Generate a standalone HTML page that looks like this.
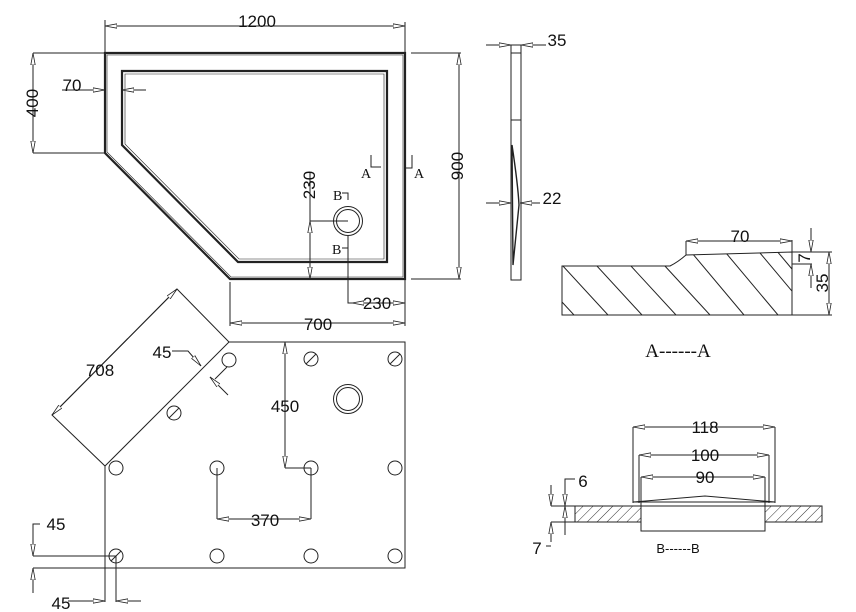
<!DOCTYPE html>
<html><head><meta charset="utf-8"><style>
html,body{margin:0;padding:0;background:#fff;}
svg{display:block}
text{font-family:"Liberation Sans",sans-serif;fill:#111;}
.s{font-family:"Liberation Serif",serif;}
</style></head><body>
<svg width="856" height="612" viewBox="0 0 856 612" xmlns="http://www.w3.org/2000/svg">
<defs>
<marker id="a" viewBox="0 0 12 6" refX="12" refY="3" markerWidth="12" markerHeight="6" orient="auto-start-reverse" markerUnits="userSpaceOnUse">
<path d="M0,0.8 L12,3 L0,5.2 Z" fill="#fff" stroke="#222" stroke-width="0.8"/>
</marker>
<clipPath id="cA"><path d="M562,266 L670,266 Q678,262 686,255 L792,252 L792,315 L562,315 Z"/></clipPath>
<pattern id="h" width="7" height="7" patternUnits="userSpaceOnUse" patternTransform="rotate(45)"><line x1="0" y1="0" x2="0" y2="7" stroke="#333" stroke-width="1"/></pattern>
</defs>
<g fill="none" stroke="#222" stroke-width="1">
<!-- top view -->
<path d="M105,53 L405,53 L405,279 L230,279 L105,153 Z" stroke-width="2.2"/>
<path d="M107,55 L403,55 L403,277 L231,277 L107,152 Z" stroke-width="0.6"/>
<path d="M122,71 L387,71 L387,262 L238,262 L122,145 Z" stroke-width="2.2"/>
<path d="M125,74 L384,74 L384,259 L239,259 L125,144 Z" stroke-width="0.6"/>
<line x1="105" y1="20" x2="105" y2="53"/><line x1="405" y1="22" x2="405" y2="53"/>
<line x1="105" y1="26" x2="405" y2="26" marker-start="url(#a)" marker-end="url(#a)"/>
<line x1="33" y1="53" x2="105" y2="53"/><line x1="33" y1="153" x2="105" y2="153"/>
<line x1="33" y1="53" x2="33" y2="153" marker-start="url(#a)" marker-end="url(#a)"/>
<line x1="411" y1="53" x2="461" y2="53"/><line x1="411" y1="279" x2="461" y2="279"/>
<line x1="459" y1="53" x2="459" y2="279" marker-start="url(#a)" marker-end="url(#a)"/>
<line x1="62" y1="90" x2="105" y2="90" marker-end="url(#a)"/>
<line x1="146" y1="90" x2="122" y2="90" marker-end="url(#a)"/>
<polyline points="371,155 371,167 381,167"/>
<polyline points="412,155 412,168 406,168"/>
<circle cx="348" cy="221" r="14.5"/><circle cx="348" cy="221" r="11.5"/>
<line x1="310" y1="221" x2="348" y2="221"/>
<line x1="310" y1="172" x2="310" y2="221"/>
<line x1="310" y1="221" x2="310" y2="279" marker-start="url(#a)" marker-end="url(#a)"/>
<polyline points="342,193 348,193 348,200"/>
<line x1="342" y1="248" x2="348" y2="248"/>
<polyline points="348,236 348,303 352,303"/>
<line x1="352" y1="303" x2="405" y2="303" marker-start="url(#a)" marker-end="url(#a)"/>
<line x1="230" y1="282" x2="230" y2="326"/><line x1="405" y1="279" x2="405" y2="326"/>
<line x1="230" y1="323" x2="405" y2="323" marker-start="url(#a)" marker-end="url(#a)"/>

<!-- side view -->
<rect x="511" y="45" width="10" height="235"/>
<line x1="511" y1="53" x2="521" y2="53"/><line x1="511" y1="120" x2="521" y2="120"/>
<path d="M512,145 Q518,185 519,205 L513,265 Z" stroke-width="1.4"/>
<line x1="486" y1="45" x2="511" y2="45" marker-end="url(#a)"/>
<line x1="546" y1="45" x2="521" y2="45" marker-end="url(#a)"/>
<line x1="486" y1="203" x2="511" y2="203" marker-end="url(#a)"/>
<line x1="540" y1="203" x2="520" y2="203" marker-end="url(#a)"/>

<!-- section A-A -->
<g clip-path="url(#cA)">
<line x1="528" y1="265" x2="574" y2="315"/>
<line x1="562" y1="265" x2="608" y2="315"/>
<line x1="596" y1="265" x2="642" y2="315"/>
<line x1="630" y1="265" x2="676" y2="315"/>
<line x1="664" y1="265" x2="710" y2="315"/>
<line x1="692" y1="253" x2="744" y2="315"/>
<line x1="726" y1="253" x2="778" y2="315"/>
<line x1="760" y1="253" x2="812" y2="315"/>
<line x1="776" y1="250" x2="828" y2="312"/>
</g>
<path d="M562,266 L670,266 Q678,262 686,255 L792,252 L792,315 L562,315 Z"/>
<line x1="792" y1="252" x2="832" y2="252"/><line x1="792" y1="315" x2="832" y2="315"/>
<line x1="792" y1="264" x2="812" y2="264"/>
<line x1="829" y1="252" x2="829" y2="315" marker-start="url(#a)" marker-end="url(#a)"/>
<line x1="811" y1="228" x2="811" y2="252" marker-end="url(#a)"/>
<line x1="811" y1="288" x2="811" y2="264" marker-end="url(#a)"/>
<line x1="686" y1="241" x2="686" y2="255"/><line x1="792" y1="240" x2="792" y2="252"/>
<line x1="686" y1="241" x2="792" y2="241" marker-start="url(#a)" marker-end="url(#a)"/>

<!-- section B-B -->
<rect x="575" y="506" width="66" height="16" fill="url(#h)"/>
<rect x="765" y="506" width="57" height="16" fill="url(#h)"/>
<rect x="641" y="506" width="124" height="25"/>
<path d="M633,502 L705,496 L775,502 Z"/>
<line x1="633" y1="427" x2="633" y2="503"/><line x1="775" y1="427" x2="775" y2="503"/>
<line x1="639" y1="455" x2="639" y2="503"/><line x1="769" y1="455" x2="769" y2="503"/>
<line x1="641" y1="477" x2="641" y2="506"/><line x1="765" y1="477" x2="765" y2="506"/>
<line x1="633" y1="427" x2="775" y2="427" marker-start="url(#a)" marker-end="url(#a)"/>
<line x1="639" y1="455" x2="769" y2="455" marker-start="url(#a)" marker-end="url(#a)"/>
<line x1="641" y1="477" x2="765" y2="477" marker-start="url(#a)" marker-end="url(#a)"/>
<line x1="551" y1="485" x2="551" y2="506" marker-end="url(#a)"/>
<line x1="551" y1="542" x2="551" y2="522" marker-end="url(#a)"/>
<polyline points="575,479 565,479 565,506" marker-end="url(#a)"/>
<line x1="565" y1="522" x2="565" y2="506" marker-end="url(#a)"/>
<line x1="551" y1="506" x2="575" y2="506"/><line x1="551" y1="522" x2="575" y2="522"/>
<line x1="546" y1="546" x2="551" y2="546"/>
<line x1="565" y1="522" x2="565" y2="535"/>

<!-- bottom view -->
<polyline points="229,342 405,342 405,568 105,568"/>
<line x1="105" y1="466" x2="105" y2="602"/>
<polygon points="177,289 229,342 105,466 52,415"/>
<line x1="177" y1="289" x2="52" y2="415" marker-start="url(#a)" marker-end="url(#a)"/>
<g stroke-width="1">
<circle cx="229" cy="360" r="7"/><circle cx="311" cy="359" r="7"/><circle cx="395" cy="359" r="7"/>
<circle cx="174" cy="413" r="7"/>
<circle cx="116" cy="468" r="7"/><circle cx="217" cy="468" r="7"/><circle cx="311" cy="468" r="7"/><circle cx="395" cy="468" r="7"/>
<circle cx="116" cy="556" r="7"/><circle cx="217" cy="556" r="7"/><circle cx="311" cy="556" r="7"/><circle cx="395" cy="556" r="7"/>
<line x1="306" y1="364" x2="316" y2="354"/><line x1="390" y1="364" x2="400" y2="354"/>
<line x1="169" y1="418" x2="179" y2="408"/><line x1="111" y1="561" x2="121" y2="551"/>
</g>
<circle cx="348" cy="399" r="14.5"/><circle cx="348" cy="399" r="11.5"/>
<line x1="285" y1="342" x2="285" y2="468" marker-start="url(#a)" marker-end="url(#a)"/>
<line x1="285" y1="468" x2="311" y2="468"/>
<line x1="217" y1="468" x2="217" y2="519"/><line x1="311" y1="468" x2="311" y2="519"/>
<line x1="217" y1="519" x2="311" y2="519" marker-start="url(#a)" marker-end="url(#a)"/>
<polyline points="172,351 188,351 201,366" marker-end="url(#a)"/>
<line x1="228" y1="395" x2="210" y2="377" marker-end="url(#a)"/>
<line x1="227" y1="367" x2="215" y2="379"/>
<polyline points="40,524 33,524 33,556" marker-end="url(#a)"/>
<line x1="33" y1="556" x2="116" y2="556"/>
<line x1="33" y1="568" x2="105" y2="568"/>
<line x1="33" y1="593" x2="33" y2="568" marker-end="url(#a)"/>
<line x1="68" y1="601" x2="105" y2="601" marker-end="url(#a)"/>
<line x1="116" y1="556" x2="116" y2="602"/>
<line x1="141" y1="601" x2="116" y2="601" marker-end="url(#a)"/>
</g>

<g font-size="17">
<text x="257" y="27" text-anchor="middle">1200</text>
<text x="72" y="91" text-anchor="middle">70</text>
<text transform="translate(38,103) rotate(-90)" text-anchor="middle">400</text>
<text transform="translate(463,166) rotate(-90)" text-anchor="middle">900</text>
<text transform="translate(315,185) rotate(-90)" text-anchor="middle">230</text>
<text x="377" y="309" text-anchor="middle">230</text>
<text x="318" y="330" text-anchor="middle">700</text>
<text x="557" y="46" text-anchor="middle">35</text>
<text x="552" y="204" text-anchor="middle">22</text>
<text x="740" y="242" text-anchor="middle">70</text>
<text transform="translate(828,283) rotate(-90)" text-anchor="middle">35</text>
<text transform="translate(810,258) rotate(-90)" text-anchor="middle">7</text>
<text x="705" y="433" text-anchor="middle">118</text>
<text x="705" y="461" text-anchor="middle">100</text>
<text x="705" y="483" text-anchor="middle">90</text>
<text x="583" y="487" text-anchor="middle">6</text>
<text x="537" y="554" text-anchor="middle">7</text>
<text x="100" y="376" text-anchor="middle">708</text>
<text x="162" y="358" text-anchor="middle">45</text>
<text x="285" y="412" text-anchor="middle">450</text>
<text x="265" y="526" text-anchor="middle">370</text>
<text x="56" y="530" text-anchor="middle">45</text>
<text x="61" y="609" text-anchor="middle">45</text>
</g>
<g font-size="14">
<text class="s" x="361" y="178">A</text>
<text class="s" x="414" y="178">A</text>
<text class="s" x="333" y="200">B</text>
<text class="s" x="332" y="254">B</text>
<text x="678" y="553" text-anchor="middle" font-size="13">B------B</text>
</g>
<text class="s" x="678" y="357" text-anchor="middle" font-size="19">A------A</text>
</svg>
</body></html>
